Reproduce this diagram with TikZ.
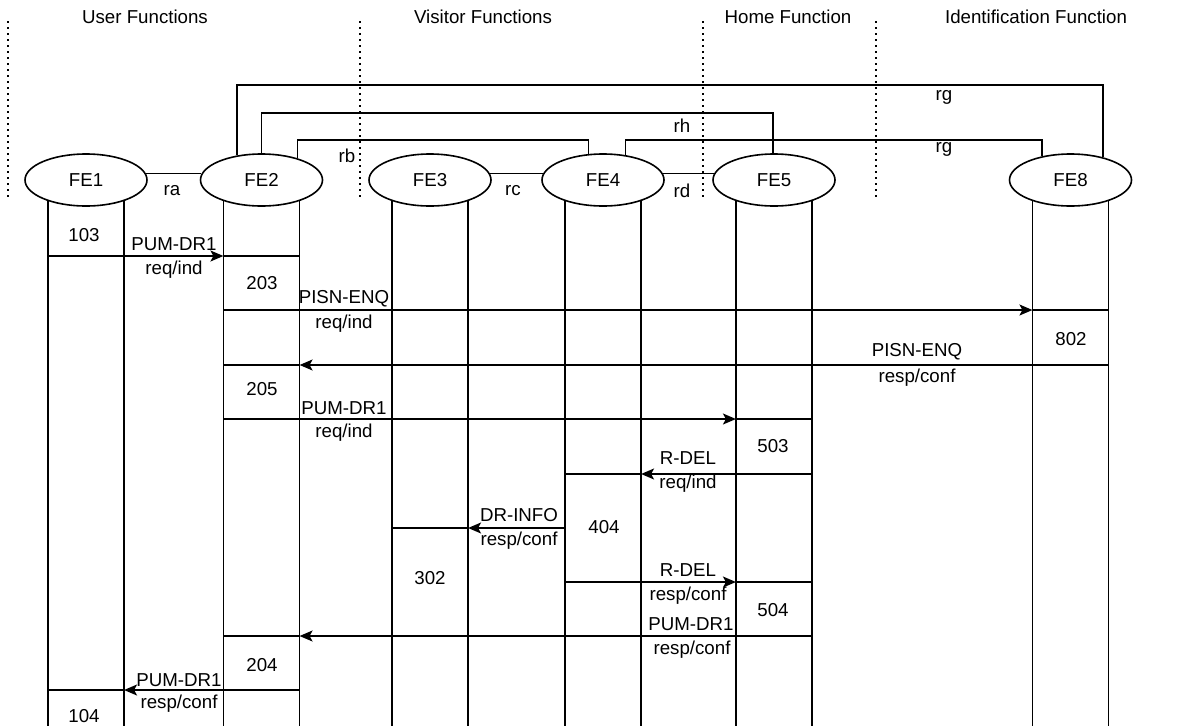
\documentclass[tikz,border=0pt]{standalone}
\usepackage{fontspec}
\setmainfont{Liberation Sans}
\usetikzlibrary{arrows.meta,shapes.geometric}
\begin{document}
\begin{tikzpicture}[x=1pt,y=-1pt,font=\fontsize{18.7}{22}\selectfont,
    fe/.style={draw,ellipse,line width=1.6pt,minimum width=122pt,minimum height=52pt,inner sep=0pt},
    lane/.style={line width=1.6pt},
    msg/.style={line width=1.6pt,-{Stealth[length=13pt,width=11pt,inset=3pt]}},
    sep/.style={line width=1.6pt,dash pattern=on 1.6pt off 4.4pt}]
    \useasboundingbox (0,0) rectangle (1180,726);
    % domains
    \node (hUser) at (145,17) {User Functions};
    \node (hVisit) at (483,17) {Visitor Functions};
    \node (hHome) at (788,17) {Home Function};
    \node (hIdent) at (1036,17) {Identification Function};
    \foreach \x in {8,360,703,876}
        \draw[sep] (\x,21) -- (\x,197);
    % functional entities
    \node[fe] (FE1) at (86,180) {FE1};
    \node[fe] (FE2) at (261.5,180) {FE2};
    \node[fe] (FE3) at (430,180) {FE3};
    \node[fe] (FE4) at (603,180) {FE4};
    \node[fe] (FE5) at (774,180) {FE5};
    \node[fe] (FE8) at (1070.5,180) {FE8};
    \foreach \n in {FE1,FE2,FE3,FE4,FE5,FE8} {
        \draw[lane] (\n.-151) -- (\n.-151 |- 0,726);
        \draw[lane] (\n.-29) -- (\n.-29 |- 0,726);
    }
    % relationships
    \draw[lane] (FE1.6) -- (FE2.174);
    \draw[lane] (FE3.6) -- (FE4.174);
    \draw[lane] (FE4.6) -- (FE5.174);
    \draw[lane] (FE2.135) -- (FE2.135 |- 0,85) -| (FE8.35);
    \draw[lane] (FE2.90) -- (FE2.90 |- 0,113) -| (FE5.92);
    \draw[lane] (FE2.31) -- (FE2.31 |- 0,140) -| (FE4.119);
    \draw[lane] (FE4.48) -- (FE4.48 |- 0,140) -| (FE8.140);
    \node (ra) at (172,191) {ra};
    \node (rb) at (347,156) {rb};
    \node (rc) at (513,191) {rc};
    \node (rd) at (682,191) {rd};
    \node (rh) at (682,126) {rh};
    \node (rgA) at (944,97) {rg};
    \node (rgB) at (944,149) {rg};
    % information flows
    \foreach \y/\a/\b/\c in {256/FE1.-151/FE2.-151/FE2.-29,
            310/FE2.-151/FE8.-151/FE8.-29,
            365/FE8.-29/FE2.-29/FE2.-151,
            419/FE2.-151/FE5.-151/FE5.-29,
            474/FE5.-29/FE4.-29/FE4.-151,
            528/FE4.-151/FE3.-29/FE3.-151,
            582/FE4.-151/FE5.-151/FE5.-29,
            636/FE5.-29/FE2.-29/FE2.-151,
            690/FE2.-29/FE1.-29/FE1.-151} {
        \draw[msg] (\a |- 0,\y) -- (\b |- 0,\y);
        \draw[lane] (\b |- 0,\y) -- (\c |- 0,\y);
    }
    % flow names
    \node (f1a) at (174,244) {PUM-DR1};
    \node (f1b) at (174,270) {req/ind};
    \node (f2a) at (344,299) {PISN-ENQ};
    \node (f2b) at (344,324) {req/ind};
    \node (f3a) at (917,352) {PISN-ENQ};
    \node (f3b) at (917,378) {resp/conf};
    \node (f4a) at (344,408) {PUM-DR1};
    \node (f4b) at (344,433) {req/ind};
    \node (f5a) at (688,458) {R-DEL};
    \node (f5b) at (688,484) {req/ind};
    \node (f6a) at (519,515) {DR-INFO};
    \node (f6b) at (519,541) {resp/conf};
    \node (f7a) at (688,570) {R-DEL};
    \node (f7b) at (688,596) {resp/conf};
    \node (f8a) at (691,624) {PUM-DR1};
    \node (f8b) at (692,650) {resp/conf};
    \node (f9a) at (179,680) {PUM-DR1};
    \node (f9b) at (179,704) {resp/conf};
    % actions
    \node (a103) at (84,235) {103};
    \node (a203) at (262,283) {203};
    \node (a802) at (1071,339) {802};
    \node (a205) at (262,389) {205};
    \node (a503) at (773,446) {503};
    \node (a404) at (604,527) {404};
    \node (a302) at (430,578) {302};
    \node (a504) at (773,610) {504};
    \node (a204) at (262,665) {204};
    \node (a104) at (84,716) {104};
\end{tikzpicture}
\end{document}
